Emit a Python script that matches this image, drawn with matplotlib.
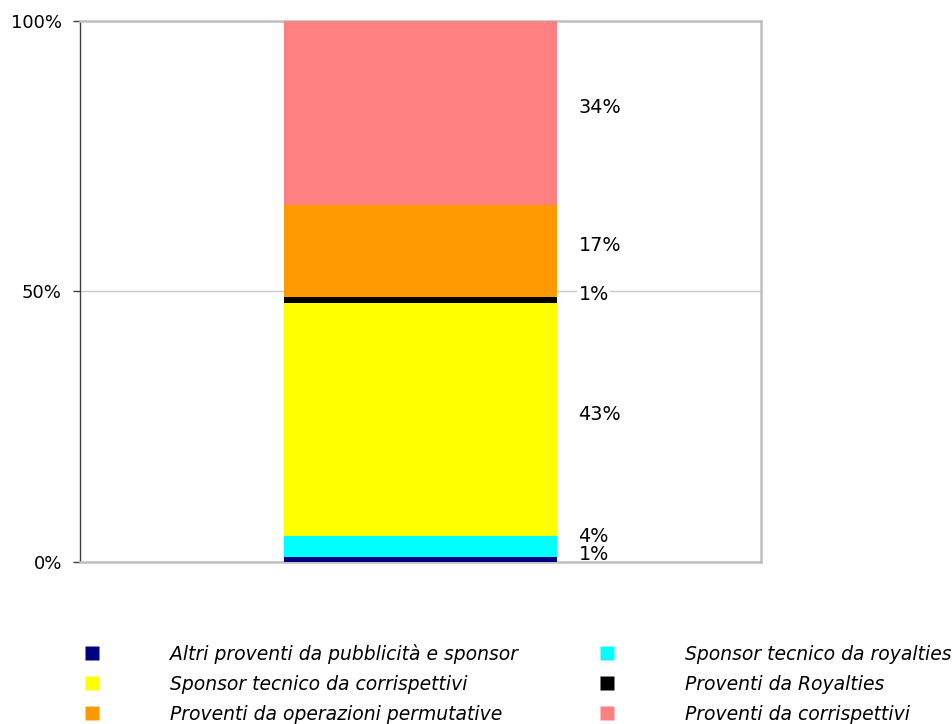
import matplotlib
matplotlib.use("Agg")
import matplotlib.pyplot as plt
from matplotlib.lines import Line2D

# Quote percentuali (stacked 100%)
categorie = ["Altri proventi da pubblicità e sponsor",
             "Sponsor tecnico da royalties",
             "Sponsor tecnico da corrispettivi",
             "Proventi da Royalties",
             "Proventi da operazioni permutative",
             "Proventi da corrispettivi"]
valori = [0.9, 3.9, 43.1, 1.1, 16.9, 34.1]
etichette = ["1%", "4%", "43%", "1%", "17%", "34%"]
colori = ["#000080", "#00FFFF", "#FFFF00", "#000000", "#FF9900", "#FF8080"]
tick_valori = [0, 50, 100]
tick_etichette = ["0%", "50%", "100%"]

plt.rcParams['font.family'] = ['DejaVu Sans']
fig = plt.figure(figsize=(9.52, 7.24), dpi=100)
ax = fig.add_axes([0.084, 0.2238, 0.7154, 0.7472])

base = 0
ultima = -10
for v, lab, c in zip(valori, etichette, colori):
    ax.bar(0, v, bottom=base, width=0.402, color=c, zorder=3)
    # etichetta al centro del segmento, spostata in su se troppo vicina alla precedente
    y = max(base + v / 2 + 1.0, ultima + 3.2)
    ultima = y
    t = ax.text(0.232, y, lab, fontsize=13.8, va='center', ha='left', zorder=4)
    # l'etichetta sulla griglia del 50% ha lo sfondo bianco
    if base < 50 < base + v + 2:
        t.set_bbox(dict(facecolor='white', edgecolor='none', pad=1))
    base += v

ax.set_xlim(-0.5, 0.5)
ax.set_ylim(0, 100)
ax.set_xticks([])
ax.set_yticks(tick_valori)
ax.set_yticklabels(tick_etichette, fontsize=13)
ax.tick_params(axis='y', length=5, width=1, color='#404040', pad=8)
ax.yaxis.grid(True, color='#c8c8c8', linewidth=1, zorder=0)
for s in ['top', 'right', 'bottom']:
    ax.spines[s].set_color('#c0c0c0')
    ax.spines[s].set_linewidth(1.8)
ax.spines['left'].set_color('#404040')
ax.spines['left'].set_linewidth(1)

# legenda: ordine per righe come nel grafico
ordine = [0, 2, 4, 1, 3, 5]
handles = [Line2D([], [], marker='s', linestyle='none', markersize=9.5,
                  markerfacecolor=colori[i], markeredgecolor='none') for i in ordine]
labels = [categorie[i] for i in ordine]
fig.legend(handles, labels, loc='upper left', bbox_to_anchor=(0.077, 0.1235),
           ncol=2, frameon=False, handlelength=1, handletextpad=3.67,
           columnspacing=4.22, labelspacing=0.58, borderpad=0,
           prop={'style': 'italic', 'size': 13.5})

fig.savefig("out.png", dpi=100)
